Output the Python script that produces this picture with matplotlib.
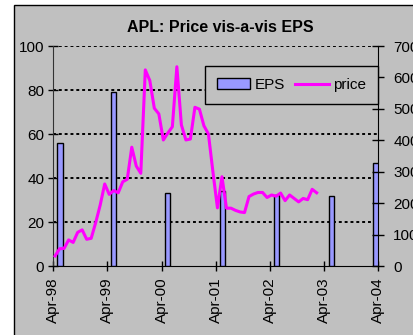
import matplotlib
matplotlib.use("Agg")
import matplotlib.pyplot as plt
from matplotlib.patches import Rectangle, Patch
from matplotlib.lines import Line2D

# -------------------------
# Data (x in months since Apr-98)
# -------------------------
tick_months = [0, 12, 24, 36, 48, 60, 72]
tick_labels = ["Apr-98", "Apr-99", "Apr-00", "Apr-01", "Apr-02", "Apr-03", "Apr-04"]

eps_months = [1.42, 13.41, 25.32, 37.52, 49.42, 61.62, 71.49]
eps_values = [56, 79, 33, 34, 32.5, 32, 47]

price_months = [0.4 + i for i in range(59)]
price_values = [32, 55, 56, 83, 75, 107, 115, 85, 88, 138,
                194, 261, 228, 240, 233, 268, 276, 378, 318, 295,
                624, 590, 502, 484, 401, 423, 443, 634, 449, 401,
                404, 505, 499, 446, 420, 299, 185, 284, 184, 184,
                177, 172, 170, 221, 229, 234, 234, 218, 226, 222,
                232, 208, 226, 215, 204, 215, 211, 244, 233]

# -------------------------
# Figure
# -------------------------
plt.rcParams['font.family'] = ['Liberation Sans', 'DejaVu Sans']
plt.rcParams['font.size'] = 11

W, H = 413, 335
fig = plt.figure(figsize=(W / 100, H / 100), dpi=100, facecolor="white")

# chart area (gray box with black edge, runs off the right/bottom)
fig.patches.append(Rectangle((14 / W, -0.1), 1.2, 1.1 - 5 / H, transform=fig.transFigure,
                             facecolor="#c0c0c0", edgecolor="black", lw=1, zorder=-5))

ax = fig.add_axes([53.3 / W, 1 - 266 / H, (378 - 53.3) / W, (266 - 46) / H])
ax.set_facecolor("none")

bar_widths = [1.3, 1.1, 1.1, 1.1, 1.1, 1.1, 1.3]
ax.bar(eps_months, eps_values, width=bar_widths, color="#9999ff", edgecolor="black",
       linewidth=1, zorder=3)

ax.set_xlim(0, 72)
ax.set_ylim(0, 100)
ax.set_yticks(range(0, 101, 20))
ax.set_xticks(tick_months)
ax.set_xticklabels(tick_labels, rotation=90)

for v in range(20, 101, 20):
    ax.axhline(v, color="black", lw=1.4, ls=(0, (1.5, 1.5)), zorder=1)

for s in ["top", "right"]:
    ax.spines[s].set_visible(False)
ax.spines["left"].set_color("#333333")
ax.tick_params(axis="y", direction="inout", length=7, width=1, pad=3, labelsize=11)
ax.tick_params(axis="x", direction="inout", length=7, width=1, pad=5, labelsize=11)

ax2 = ax.twinx()
ax2.plot(price_months, price_values, color="#ff00ff", lw=2.2, zorder=4)
ax2.set_ylim(0, 700)
ax2.set_yticks(range(0, 701, 100))
ax2.spines["top"].set_visible(False)
ax2.spines["left"].set_visible(False)
ax2.spines["bottom"].set_visible(False)
ax2.tick_params(direction="inout", length=8, width=1, pad=7, labelsize=11)

handles = [Patch(facecolor="#9999ff", edgecolor="black", lw=1),
           Line2D([0], [0], color="#ff00ff", lw=2.2)]
leg = ax2.legend(handles, ["EPS", "price"], loc="upper right", bbox_to_anchor=(1.0, 0.91),
                 borderaxespad=0, ncol=2, fancybox=False, framealpha=1, facecolor="#c0c0c0",
                 edgecolor="black", handlelength=2.2, handleheight=0.75, handletextpad=0.25,
                 columnspacing=0.7, borderpad=0.8, fontsize=11)
leg.get_frame().set_linewidth(1)

fig.text(220 / W, 1 - 27 / H, "APL: Price vis-a-vis EPS", ha="center", va="center",
         fontsize=11.5, fontweight="bold")

fig.savefig("out.png", dpi=100, facecolor="white")
